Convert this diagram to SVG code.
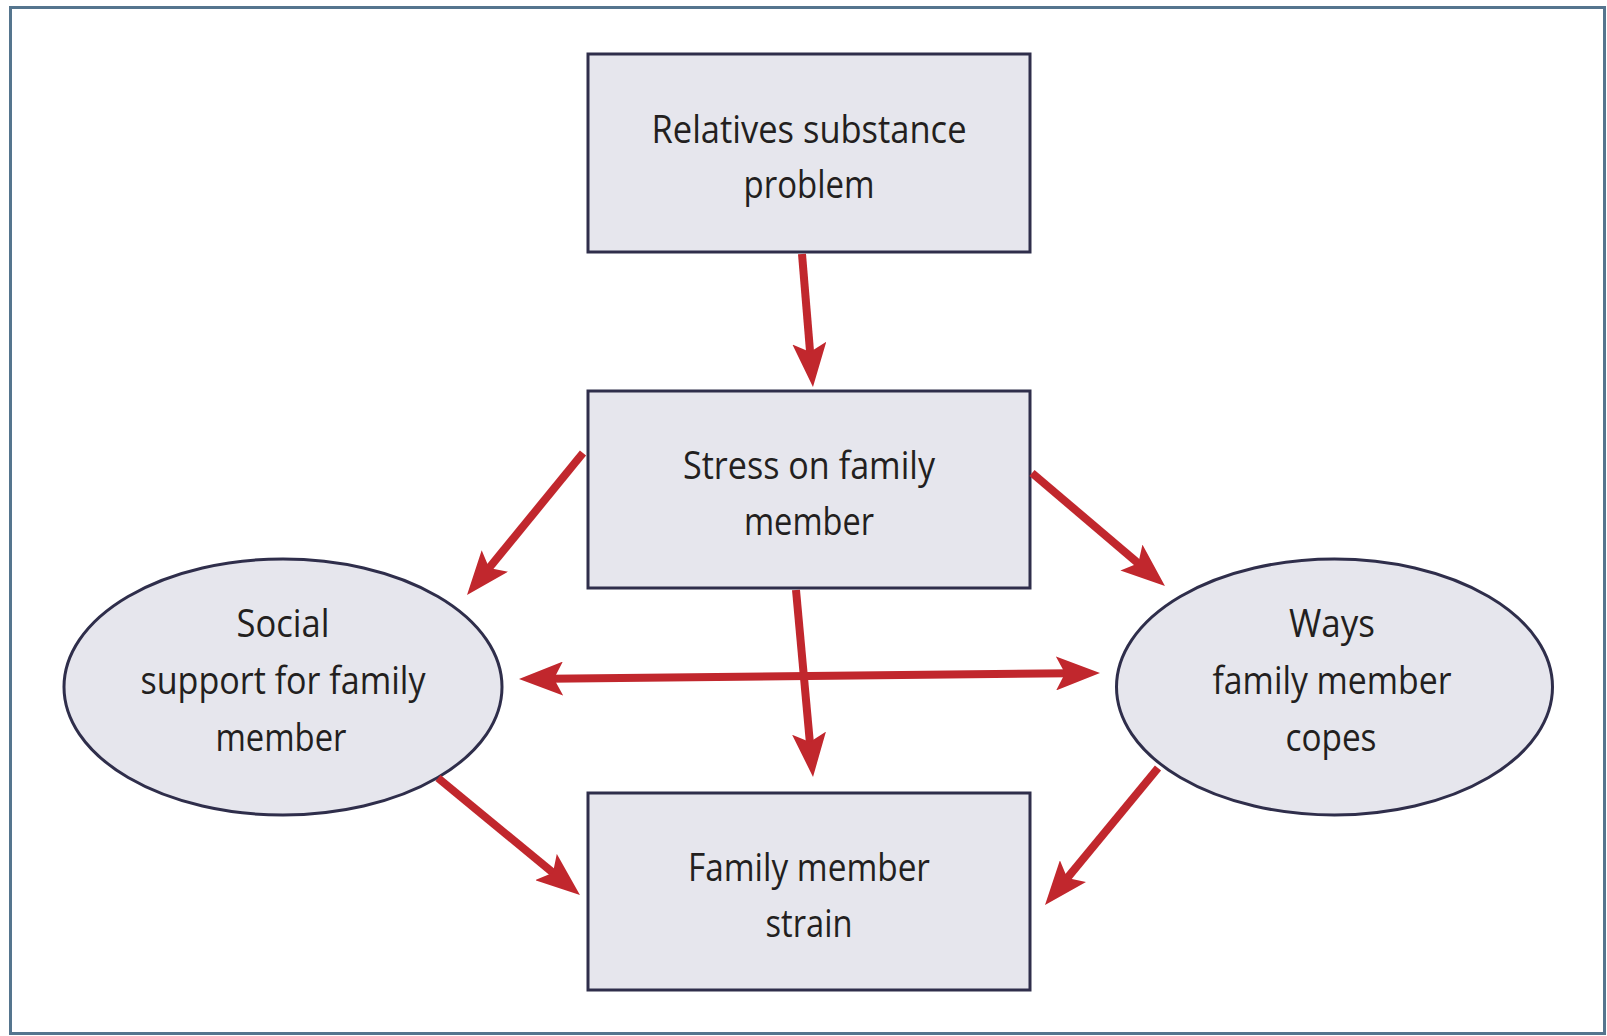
<svg xmlns="http://www.w3.org/2000/svg" width="1607" height="1036" viewBox="0 0 1607 1036">
<style>
.frame{fill:#ffffff;stroke:#55758e;stroke-width:3}
.box{fill:#e6e6ed;stroke:#2f2e4b;stroke-width:3}
.lbl{font-family:"Open Sans","Liberation Sans",sans-serif;font-size:38px;fill:#231f20;text-anchor:middle}
.arr{stroke:#c1272d;stroke-width:8;fill:none}
</style>
<defs>
<marker id="ah" viewBox="0 0 44 34" refX="14" refY="17" markerWidth="44" markerHeight="34" markerUnits="userSpaceOnUse" orient="auto-start-reverse">
<path d="M0,0 L44,17 L0,34 L9,17 Z" fill="#c1272d"/>
</marker>
</defs>
<rect class="frame" x="10.5" y="7.5" width="1594" height="1026"/>
<g id="node-relatives">
<rect class="box" x="588" y="54" width="442" height="198"/>
<text class="lbl" x="809" y="143" textLength="315" lengthAdjust="spacingAndGlyphs">Relatives substance</text>
<text class="lbl" x="809" y="198" textLength="131" lengthAdjust="spacingAndGlyphs">problem</text>
</g>
<g id="node-stress">
<rect class="box" x="588" y="391" width="442" height="197"/>
<text class="lbl" x="809" y="479" textLength="252" lengthAdjust="spacingAndGlyphs">Stress on family</text>
<text class="lbl" x="809" y="535" textLength="130" lengthAdjust="spacingAndGlyphs">member</text>
</g>
<g id="node-strain">
<rect class="box" x="588" y="793" width="442" height="197"/>
<text class="lbl" x="809" y="881" textLength="242" lengthAdjust="spacingAndGlyphs">Family member</text>
<text class="lbl" x="809" y="937" textLength="87" lengthAdjust="spacingAndGlyphs">strain</text>
</g>
<g id="node-social">
<ellipse class="box" cx="283" cy="687" rx="219" ry="128"/>
<text class="lbl" x="283" y="637" textLength="93" lengthAdjust="spacingAndGlyphs">Social</text>
<text class="lbl" x="283" y="694" textLength="285" lengthAdjust="spacingAndGlyphs">support for family</text>
<text class="lbl" x="281" y="751" textLength="131" lengthAdjust="spacingAndGlyphs">member</text>
</g>
<g id="node-copes">
<ellipse class="box" cx="1334.5" cy="687" rx="218" ry="128"/>
<text class="lbl" x="1332" y="637" textLength="86" lengthAdjust="spacingAndGlyphs">Ways</text>
<text class="lbl" x="1332" y="694" textLength="239" lengthAdjust="spacingAndGlyphs">family member</text>
<text class="lbl" x="1331" y="751" textLength="91" lengthAdjust="spacingAndGlyphs">copes</text>
</g>
<g id="connectors">
<line class="arr" x1="802" y1="254" x2="810.5" y2="357.1" marker-end="url(#ah)"/>
<line class="arr" x1="583" y1="453" x2="486" y2="571.8" marker-end="url(#ah)"/>
<line class="arr" x1="1032" y1="473" x2="1142.1" y2="566.6" marker-end="url(#ah)"/>
<line class="arr" x1="796" y1="590" x2="810.3" y2="747.1" marker-end="url(#ah)"/>
<line class="arr" x1="549" y1="678.7" x2="1070" y2="673.3" marker-start="url(#ah)" marker-end="url(#ah)"/>
<line class="arr" x1="438" y1="778" x2="556.8" y2="875.9" marker-end="url(#ah)"/>
<line class="arr" x1="1158" y1="768" x2="1064.1" y2="881.9" marker-end="url(#ah)"/>
</g>
</svg>
